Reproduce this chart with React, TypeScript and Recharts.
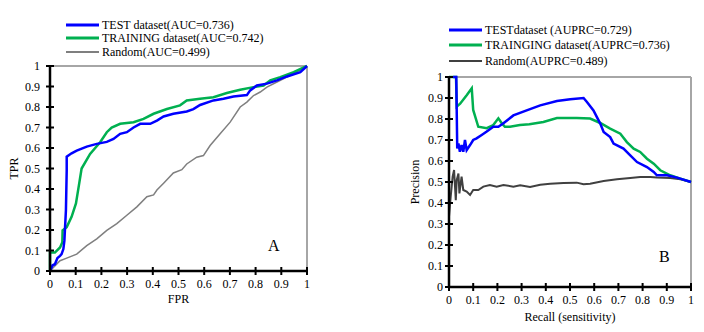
import React from 'react';
import { LineChart, Line, XAxis, YAxis, ReferenceLine, Legend } from 'recharts';

// shared 0..1 axis ticks
const axisTicks = [0, 0.1, 0.2, 0.3, 0.4, 0.5, 0.6, 0.7, 0.8, 0.9, 1];

// ROC curves, [FPR, TPR]
const rocTest = [
  [0, 0], [0.01, 0.028], [0.019, 0.033], [0.029, 0.063], [0.039, 0.074], [0.045, 0.082],
  [0.052, 0.107], [0.056, 0.148], [0.058, 0.198], [0.062, 0.297], [0.065, 0.49], [0.065, 0.558],
  [0.084, 0.574], [0.104, 0.587], [0.143, 0.607], [0.182, 0.62], [0.221, 0.63], [0.247, 0.644],
  [0.273, 0.669], [0.299, 0.677], [0.325, 0.7], [0.351, 0.718], [0.39, 0.718], [0.416, 0.734],
  [0.442, 0.754], [0.48, 0.767], [0.532, 0.778], [0.558, 0.79], [0.584, 0.81], [0.636, 0.832],
  [0.675, 0.84], [0.714, 0.851], [0.766, 0.858], [0.779, 0.881], [0.805, 0.905], [0.844, 0.914],
  [0.883, 0.93], [0.922, 0.949], [0.974, 0.97], [1, 1],
];
const rocTrain = [
  [0, 0], [0, 0.09], [0.019, 0.09], [0.039, 0.115], [0.048, 0.14], [0.049, 0.198], [0.065, 0.214],
  [0.084, 0.264], [0.101, 0.33], [0.114, 0.43], [0.123, 0.5], [0.156, 0.571], [0.195, 0.628],
  [0.221, 0.677], [0.24, 0.7], [0.273, 0.718], [0.325, 0.726], [0.364, 0.742], [0.403, 0.767],
  [0.455, 0.79], [0.506, 0.808], [0.532, 0.832], [0.584, 0.84], [0.636, 0.848], [0.688, 0.868],
  [0.74, 0.884], [0.792, 0.897], [0.831, 0.905], [0.857, 0.93], [0.896, 0.946], [0.948, 0.97], [1, 1],
];
const rocRandom = [
  [0, 0], [0.019, 0.025], [0.039, 0.05], [0.065, 0.063], [0.104, 0.082], [0.143, 0.124],
  [0.182, 0.157], [0.221, 0.198], [0.26, 0.231], [0.299, 0.272], [0.338, 0.313], [0.377, 0.362],
  [0.403, 0.371], [0.416, 0.395], [0.442, 0.428], [0.48, 0.478], [0.513, 0.494], [0.532, 0.522],
  [0.571, 0.555], [0.597, 0.563], [0.623, 0.612], [0.662, 0.669], [0.701, 0.726], [0.74, 0.8],
  [0.766, 0.824], [0.792, 0.856], [0.818, 0.873], [0.844, 0.897], [0.883, 0.922], [0.935, 0.954], [1, 1],
];

// PR curves, [recall, precision]
const prTest = [
  [0.017, 1], [0.03, 1], [0.034, 0.66], [0.039, 0.684], [0.045, 0.644], [0.052, 0.676],
  [0.059, 0.644], [0.066, 0.7], [0.073, 0.652], [0.087, 0.676], [0.1, 0.7], [0.114, 0.708],
  [0.135, 0.724], [0.156, 0.74], [0.183, 0.763], [0.204, 0.763], [0.225, 0.78], [0.266, 0.817],
  [0.321, 0.841], [0.377, 0.865], [0.446, 0.886], [0.501, 0.894], [0.556, 0.9], [0.57, 0.881],
  [0.597, 0.841], [0.625, 0.778], [0.639, 0.738], [0.666, 0.714], [0.68, 0.683], [0.721, 0.659],
  [0.749, 0.627], [0.777, 0.595], [0.818, 0.571], [0.846, 0.548], [0.859, 0.532], [0.901, 0.532],
  [0.942, 0.521], [1, 0.5],
];
const prTrain = [
  [0, 1], [0.029, 1], [0.032, 0.859], [0.046, 0.873], [0.073, 0.913], [0.094, 0.946], [0.1, 0.843],
  [0.121, 0.763], [0.156, 0.756], [0.183, 0.771], [0.204, 0.803], [0.218, 0.78], [0.231, 0.763],
  [0.252, 0.763], [0.293, 0.771], [0.332, 0.775], [0.39, 0.786], [0.446, 0.805], [0.528, 0.805],
  [0.583, 0.802], [0.625, 0.781], [0.666, 0.754], [0.708, 0.73], [0.735, 0.69], [0.763, 0.659],
  [0.79, 0.643], [0.818, 0.611], [0.846, 0.587], [0.873, 0.556], [0.914, 0.532], [0.956, 0.516], [1, 0.5],
];
const prRandom = [
  [0, 0.335], [0.007, 0.43], [0.015, 0.525], [0.021, 0.557], [0.028, 0.413], [0.032, 0.51],
  [0.039, 0.54], [0.043, 0.446], [0.052, 0.525], [0.059, 0.462], [0.073, 0.454], [0.087, 0.438],
  [0.1, 0.462], [0.121, 0.462], [0.142, 0.478], [0.169, 0.486], [0.197, 0.478], [0.225, 0.486],
  [0.266, 0.478], [0.294, 0.484], [0.335, 0.476], [0.377, 0.487], [0.418, 0.492], [0.473, 0.495],
  [0.528, 0.497], [0.556, 0.489], [0.583, 0.492], [0.639, 0.505], [0.694, 0.513], [0.749, 0.519],
  [0.79, 0.524], [0.832, 0.524], [0.859, 0.521], [0.914, 0.519], [0.956, 0.513], [1, 0.5],
];

const rocLegend = [
  { label: 'TEST dataset(AUC=0.736)', color: '#0000ff', width: 3 },
  { label: 'TRAINING dataset(AUC=0.742)', color: '#00b050', width: 3 },
  { label: 'Random(AUC=0.499)', color: '#7f7f7f', width: 2 },
];
const prLegend = [
  { label: 'TESTdataset (AUPRC=0.729)', color: '#0000ff', width: 3 },
  { label: 'TRAINGING dataset(AUPRC=0.736)', color: '#00b050', width: 3 },
  { label: 'Random(AUPRC=0.489)', color: '#404040', width: 2 },
];

const FONT = '"Liberation Serif", "Times New Roman", serif';
const toPoints = (pts: number[][]) => pts.map(([x, y]) => ({ x, y }));

function XTick({ x, y, payload, gap }: any) {
  const axisY = y - gap;
  return (
    <g>
      <line x1={x} x2={x} y1={axisY - 4} y2={axisY + 4} stroke="#000" strokeWidth={2} />
      <text x={x} y={y} dy="0.71em" textAnchor="middle" fontSize={12} fontFamily={FONT} fill="#000">
        {payload.value}
      </text>
    </g>
  );
}

function YTick({ x, y, payload, gap }: any) {
  const axisX = x + gap;
  return (
    <g>
      <line x1={axisX - 4} x2={axisX + 4} y1={y} y2={y} stroke="#000" strokeWidth={2} />
      <text x={x} y={y} dy="0.355em" textAnchor="end" fontSize={12} fontFamily={FONT} fill="#000">
        {payload.value}
      </text>
    </g>
  );
}

function LegendBox({ items, rowHeight, lineLen, gap }: any) {
  return (
    <div style={{ fontFamily: FONT, fontSize: 12, color: '#000', lineHeight: 1 }}>
      {items.map((it: any) => (
        <div key={it.label} style={{ display: 'flex', alignItems: 'center', height: rowHeight, whiteSpace: 'nowrap' }}>
          <svg width={lineLen} height={6} style={{ marginRight: gap, display: 'block' }}>
            <line x1={0} x2={lineLen} y1={3} y2={3} stroke={it.color} strokeWidth={it.width} />
          </svg>
          <span>{it.label}</span>
        </div>
      ))}
    </div>
  );
}

const axisLine = { stroke: '#000', strokeWidth: 2.5 };
const frame = '#a6a6a6';

function RocChart() {
  return (
    <LineChart width={340} height={332} margin={{ top: 66, right: 33, bottom: 31, left: 10 }}>
      <XAxis
        dataKey="x" type="number" domain={[0, 1]} ticks={axisTicks} interval={0} height={30}
        axisLine={axisLine} tickLine={false} tickSize={4} tickMargin={4}
        tick={(p: any) => <XTick {...p} gap={8} />}
        label={{ value: 'FPR', position: 'insideBottom', offset: -2, fontSize: 12, fontFamily: FONT, fill: '#000' }}
      />
      <YAxis
        type="number" domain={[0, 1]} ticks={axisTicks} interval={0} width={40}
        axisLine={axisLine} tickLine={false} tickSize={4} tickMargin={6}
        tick={(p: any) => <YTick {...p} gap={10} />}
        label={{ value: 'TPR', angle: -90, position: 'insideLeft', offset: 4, fontSize: 12, fontFamily: FONT, fill: '#000', style: { textAnchor: 'middle' } }}
      />
      <ReferenceLine y={1} stroke={frame} strokeWidth={2} />
      <ReferenceLine x={1} stroke={frame} strokeWidth={2} />
      <Line data={toPoints(rocRandom)} dataKey="y" type="linear" stroke="#7f7f7f" strokeWidth={1.5} dot={false} isAnimationActive={false} />
      <Line data={toPoints(rocTrain)} dataKey="y" type="linear" stroke="#00b050" strokeWidth={2.5} dot={false} isAnimationActive={false} />
      <Line data={toPoints(rocTest)} dataKey="y" type="linear" stroke="#0000ff" strokeWidth={2.5} dot={false} isAnimationActive={false} />
      <Legend
        layout="vertical" align="center" verticalAlign="middle"
        wrapperStyle={{ left: 66, top: 18, width: 'auto', height: 'auto' }}
        content={() => <LegendBox items={rocLegend} rowHeight={13.5} lineLen={33} gap={3} />}
      />
    </LineChart>
  );
}

function PrChart() {
  return (
    <LineChart width={334} height={332} margin={{ top: 77, right: 13, bottom: 10, left: 39 }}>
      <XAxis
        dataKey="x" type="number" domain={[0, 1]} ticks={axisTicks} interval={0} height={35}
        axisLine={axisLine} tickLine={false} tickSize={4} tickMargin={4}
        tick={(p: any) => <XTick {...p} gap={8} />}
        label={{ value: 'Recall (sensitivity)', position: 'insideBottom', offset: 1, fontSize: 12, fontFamily: FONT, fill: '#000' }}
      />
      <YAxis
        type="number" domain={[0, 1]} ticks={axisTicks} interval={0} width={40}
        axisLine={axisLine} tickLine={false} tickSize={4} tickMargin={2}
        tick={(p: any) => <YTick {...p} gap={6} />}
        label={{ value: 'Precision', angle: -90, position: 'insideLeft', offset: 6, fontSize: 12, fontFamily: FONT, fill: '#000', style: { textAnchor: 'middle' } }}
      />
      <ReferenceLine y={1} stroke={frame} strokeWidth={2} />
      <ReferenceLine x={1} stroke={frame} strokeWidth={2} />
      <Line data={toPoints(prRandom)} dataKey="y" type="linear" stroke="#404040" strokeWidth={2} dot={false} isAnimationActive={false} />
      <Line data={toPoints(prTrain)} dataKey="y" type="linear" stroke="#00b050" strokeWidth={2.5} dot={false} isAnimationActive={false} />
      <Line data={toPoints(prTest)} dataKey="y" type="linear" stroke="#0000ff" strokeWidth={2.5} dot={false} isAnimationActive={false} />
      <Legend
        layout="vertical" align="center" verticalAlign="middle"
        wrapperStyle={{ left: 79, top: 22, width: 'auto', height: 'auto' }}
        content={() => <LegendBox items={prLegend} rowHeight={15.5} lineLen={33} gap={3} />}
      />
    </LineChart>
  );
}

export default function App() {
  return (
    <div style={{ position: 'absolute', left: 0, top: 0, width: 704, height: 332, background: '#fff', overflow: 'hidden' }}>
      <div style={{ position: 'absolute', left: 0, top: 0 }}>
        <RocChart />
      </div>
      <div style={{ position: 'absolute', left: 370, top: 0 }}>
        <PrChart />
      </div>
      <div style={{ position: 'absolute', left: 268, top: 236, fontFamily: FONT, fontSize: 16, lineHeight: '20px' }}>A</div>
      <div style={{ position: 'absolute', left: 659, top: 247, fontFamily: FONT, fontSize: 16, lineHeight: '20px' }}>B</div>
    </div>
  );
}
